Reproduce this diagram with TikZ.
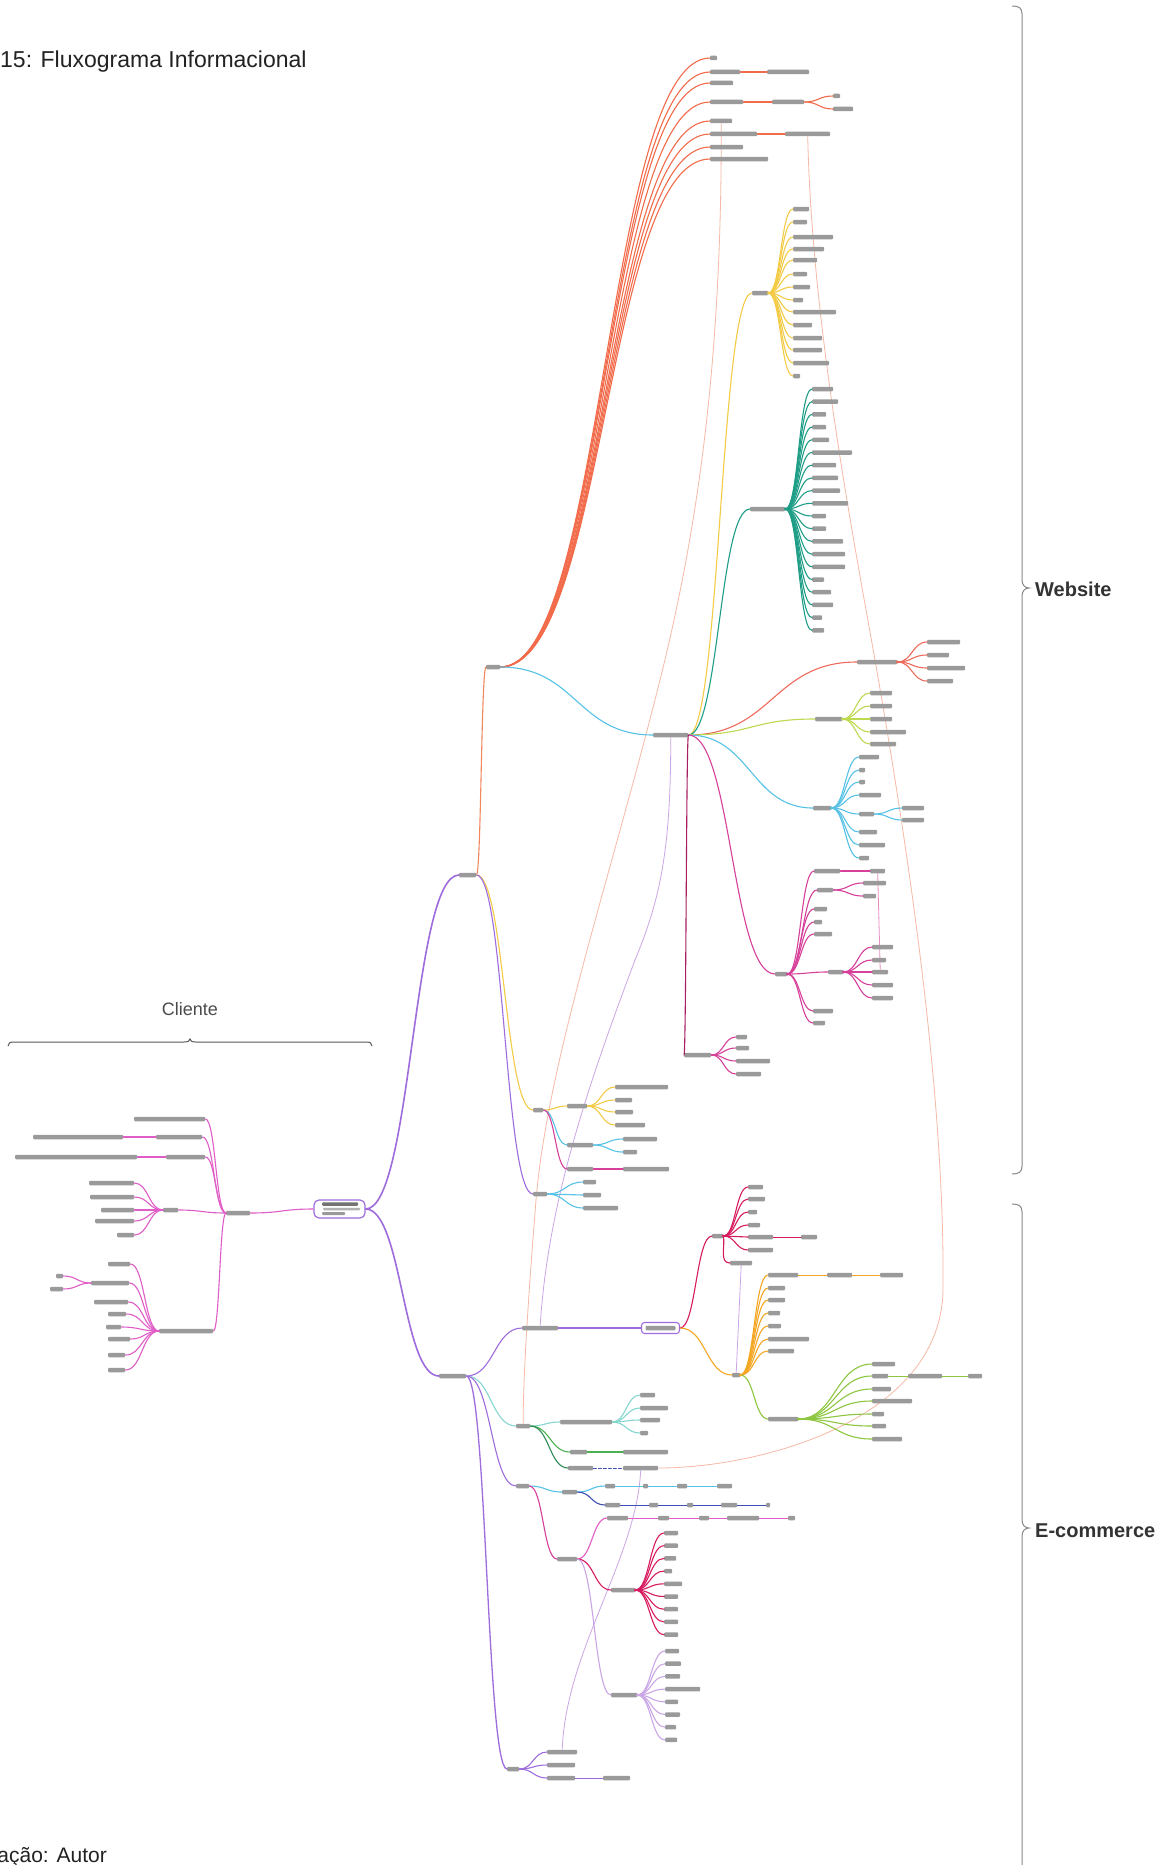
\documentclass[tikz,border=0pt]{standalone}
\usepackage{fontspec}
\setmainfont{Liberation Sans}
\usetikzlibrary{calc}
\definecolor{barc}{HTML}{9A9A9A}
\definecolor{orR}{HTML}{F26B4B}
\definecolor{orP}{HTML}{F2875E}
\definecolor{cyL}{HTML}{56C2E6}
\definecolor{yeL}{HTML}{F3CB45}
\definecolor{teL}{HTML}{1E9E86}
\definecolor{reL}{HTML}{EE6B5B}
\definecolor{ygL}{HTML}{BCD94F}
\definecolor{maL}{HTML}{D6409A}
\definecolor{dmL}{HTML}{A81E62}
\definecolor{puL}{HTML}{9E6CDD}
\definecolor{piL}{HTML}{E05CC6}
\definecolor{ogL}{HTML}{F5A623}
\definecolor{grL}{HTML}{8DC63F}
\definecolor{crL}{HTML}{D81B60}
\definecolor{ltL}{HTML}{86D6D0}
\definecolor{gnL}{HTML}{4CB050}
\definecolor{dgL}{HTML}{2E8B57}
\definecolor{dbL}{HTML}{3F51B5}
\definecolor{lvL}{HTML}{CBA6E6}
\definecolor{peL}{HTML}{F5B9A5}
\definecolor{txt}{HTML}{222222}
\definecolor{brc}{HTML}{888888}
\pgfdeclarelayer{bg}
\pgfsetlayers{bg,main}
\tikzset{
 lbl/.style={fill=barc, rounded corners=1pt, minimum height=4.5pt, inner sep=0pt, anchor=west},
 conn/.style={line width=1.1pt, line cap=round},
 chainw/.style={line width=0.8pt},
 xlink/.style={line width=0.8pt},
 bracel/.style={draw=brc, line width=1pt},
}
\newcommand\mmlb[4]{\node[lbl,minimum width=#4] (#1) at ({#2},{#3}) {};}
\newcommand\mmcn[3]{\draw[conn,#1] let \p1=(#2.east), \p2=(#3.west) in (\p1) .. controls ({(\x1+\x2)/2},\y1) and ({(\x1+\x2)/2},\y2) .. (\p2);}
\newcommand\mmcl[3]{\draw[conn,#1] let \p1=(#2.west), \p2=(#3.east) in (\p1) .. controls ({(\x1+\x2)/2},\y1) and ({(\x1+\x2)/2},\y2) .. (\p2);}
\newcommand\mmdot[2]{\fill[#1] (#2.east) circle (1.6);}
\begin{document}
\begin{tikzpicture}[x=1pt,y=-1pt]
\useasboundingbox (0,0) rectangle (1168,1865);
\begin{pgfonlayer}{bg}
\fill[white] (0,0) rectangle (1168,1865);
\end{pgfonlayer}

% ---------- texts ----------
\node[anchor=base west, font=\fontsize{23}{26}\selectfont, text=txt, inner sep=0] (title) at (0,68) {15: Fluxograma Informacional};
\node[anchor=base east, font=\fontsize{21}{24}\selectfont, text=txt, inner sep=0] (caption) at (107,1862) {ação: Autor};
\node[anchor=base, font=\fontsize{18}{21}\selectfont, text=black!70, inner sep=0] (cli) at (190,1015) {Cliente};
\node[anchor=base west, font=\bfseries\fontsize{20}{24}\selectfont, text=black!80, inner sep=0] (web) at (1035,596) {Website};
\node[anchor=base west, font=\bfseries\fontsize{20}{24}\selectfont, text=black!80, inner sep=0] (ecom) at (1035,1537) {E-commerce};

% ---------- braces ----------
\draw[bracel] (1012,6) .. controls (1019,6) and (1022,8) .. (1022,14) -- (1022,580) .. controls (1022,585) and (1025,588) .. (1029,588) .. controls (1025,588) and (1022,591) .. (1022,596) -- (1022,1166) .. controls (1022,1172) and (1019,1174) .. (1012,1174);
\draw[bracel] (1012,1204) .. controls (1019,1204) and (1022,1206) .. (1022,1212) -- (1022,1520) .. controls (1022,1525) and (1025,1528) .. (1029,1528) .. controls (1025,1528) and (1022,1531) .. (1022,1536) -- (1022,1870);
\draw[bracel, draw=black!65] (8,1046) .. controls (8,1043) and (10,1042) .. (14,1042) -- (184,1042) .. controls (188,1042) and (190,1041) .. (190,1039) .. controls (190,1041) and (192,1042) .. (196,1042) -- (366,1042) .. controls (370,1042) and (372,1043) .. (372,1046);

% ---------- hub ----------
\node[draw=puL, line width=1.2pt, fill=white, rounded corners=5pt, minimum width=51, minimum height=18, inner sep=0] (hub) at (339.5,1209) {};
\node[lbl, minimum width=36, minimum height=3.5, fill=black!55] (hubl1) at (322,1204) {};
\node[lbl, minimum width=37, minimum height=2.5, fill=black!30] (hubl2) at (323,1209) {};
\node[lbl, minimum width=23, minimum height=3, fill=black!40] (hubl3) at (322,1213.5) {};

% ---------- Cliente side ----------
\mmlb{c0}{226}{1213}{24}
\mmlb{c1}{134}{1119}{71}
\mmlb{c2}{156}{1137}{46}\mmlb{c2a}{33}{1137}{90}
\mmlb{c3}{166}{1157}{39}\mmlb{c3a}{15}{1157}{122}
\mmlb{c4}{163}{1210}{15}
\mmlb{c4a}{89}{1183}{45}\mmlb{c4b}{90}{1197}{44}\mmlb{c4c}{101}{1210}{33}\mmlb{c4d}{95}{1221}{39}\mmlb{c4e}{117}{1235}{17}
\mmlb{c5}{159}{1331}{54}
\mmlb{c5a}{108}{1264}{22}\mmlb{c5b}{91}{1283}{38}\mmlb{c5c}{94}{1302}{34}\mmlb{c5d}{108}{1314}{18}
\mmlb{c5e}{106}{1327}{15}\mmlb{c5f}{108}{1339}{22}\mmlb{c5g}{108}{1355}{17}\mmlb{c5h}{108}{1370}{17}
\mmlb{c5b1}{56}{1276}{7}\mmlb{c5b2}{50}{1289}{13}
\mmcl{piL}{hub}{c0}
\foreach \nm in {c1,c2,c3,c4,c5}{\mmcl{piL}{c0}{\nm}}
\mmcl{piL}{c2}{c2a}\mmcl{piL}{c3}{c3a}
\foreach \nm in {c4a,c4b,c4c,c4d,c4e}{\mmcl{piL}{c4}{\nm}}
\foreach \nm in {c5a,c5b,c5c,c5d,c5e,c5f,c5g,c5h}{\mmcl{piL}{c5}{\nm}}
\mmcl{piL}{c5b}{c5b1}\mmcl{piL}{c5b}{c5b2}

% ---------- Website trunk ----------
\mmlb{P}{459}{875}{17}
\mmlb{R}{486}{667}{14}
\mmlb{Y}{533}{1110}{10}
\mmlb{Pn}{533}{1194}{14}
\mmcn{puL,line width=1.6pt}{hub}{P}
\mmcn{orP}{P}{R}\mmcn{yeL}{P}{Y}\mmcn{puL}{P}{Pn}

% top fan
\mmlb{t1}{710}{58}{7}
\mmlb{t2}{710}{72}{30}\mmlb{t2a}{767}{72}{42}
\mmlb{t3}{710}{83}{23}
\mmlb{t4}{710}{102}{33}\mmlb{t4a}{772}{102}{32}\mmlb{t4b}{833}{96}{7}\mmlb{t4c}{833}{109}{20}
\mmlb{t5}{710}{121}{22}
\mmlb{t6}{710}{134}{47}\mmlb{t6a}{785}{134}{45}
\mmlb{t7}{710}{147}{33}
\mmlb{t8}{710}{159}{58}
\foreach \nm in {t1,t2,t3,t4,t5,t6,t7,t8}{\mmcn{orR}{R}{\nm}}
\mmcn{orR}{t2}{t2a}\mmcn{orR}{t4}{t4a}\mmcn{orR}{t4a}{t4b}\mmcn{orR}{t4a}{t4c}\mmcn{orR}{t6}{t6a}

% W2 hub
\mmlb{W2}{653}{735}{35}
\mmcn{cyL}{R}{W2}
\mmlb{Yh}{752}{293}{16}
\mmlb{Th}{750}{509}{35}
\mmlb{Rh}{857}{662}{40}
\mmlb{YGh}{815}{719}{27}
\mmlb{Bh}{813}{808}{18}
\mmlb{Mh}{775}{974}{12}
\mmlb{Dm}{684}{1055}{27}
\mmcn{yeL}{W2}{Yh}\mmcn{teL}{W2}{Th}\mmcn{reL}{W2}{Rh}\mmcn{ygL}{W2}{YGh}
\mmcn{cyL}{W2}{Bh}\mmcn{maL}{W2}{Mh}\mmcn{dmL}{W2}{Dm}

\foreach \yy/\ww [count=\i] in {209/16,222/14,237/40,249/31,260/24,274/14,287/17,300/10,312/43,325/19,338/29,350/29,363/36,376/7}{\mmlb{yc\i}{793}{\yy}{\ww}\mmcn{yeL}{Yh}{yc\i}}
\foreach \ww [count=\i] in {21,26,14,14,17,40,24,26,28,36,14,14,31,33,33,12,19,21,10,12}{\mmlb{tc\i}{812}{389+12.7*(\i-1)}{\ww}\mmcn{teL}{Th}{tc\i}}
\foreach \yy/\ww [count=\i] in {642/33,655/22,668/38,681/26}{\mmlb{rc\i}{927}{\yy}{\ww}\mmcn{reL}{Rh}{rc\i}}
\foreach \yy/\ww [count=\i] in {693/22,706/22,719/22,732/36,744/26}{\mmlb{yg\i}{870}{\yy}{\ww}\mmcn{ygL}{YGh}{yg\i}}
\foreach \yy/\ww [count=\i] in {757/20,770/6,782/6,795/22,814/15,832/18,845/26,858/10}{\mmlb{bc\i}{859}{\yy}{\ww}\mmcn{cyL}{Bh}{bc\i}}
\mmlb{bc5a}{902}{808}{22}\mmlb{bc5b}{902}{820}{22}
\mmcn{cyL}{bc5}{bc5a}\mmcn{cyL}{bc5}{bc5b}
\mmlb{m1}{814}{871}{26}\mmlb{m1a}{870}{871}{15}
\mmlb{m2}{817}{890}{16}\mmlb{m2a}{863}{883}{23}\mmlb{m2b}{863}{896}{13}
\mmlb{m3}{814}{909}{13}
\mmlb{m4}{814}{922}{8}
\mmlb{m5}{814}{934}{18}
\mmlb{m6}{828}{972}{15}
\mmlb{m7}{813}{1011}{20}
\mmlb{m8}{813}{1023}{12}
\foreach \nm in {m1,m2,m3,m4,m5,m6,m7,m8}{\mmcn{maL}{Mh}{\nm}}
\mmcn{maL}{m1}{m1a}\mmcn{maL}{m2}{m2a}\mmcn{maL}{m2}{m2b}
\foreach \yy/\ww/\kk in {947/21/a,960/14/b,972/16/c,985/21/d,998/21/e}{\mmlb{m6\kk}{872}{\yy}{\ww}\mmcn{maL}{m6}{m6\kk}}
\foreach \yy/\ww [count=\i] in {1037/11,1048/13,1061/34,1074/25}{\mmlb{d\i}{736}{\yy}{\ww}\mmcn{maL}{Dm}{d\i}}
\mmdot{reL}{Rh}\mmdot{ygL}{YGh}\mmdot{cyL}{Bh}\mmdot{maL}{Mh}\mmdot{maL}{m6}\mmdot{yeL}{Yh}\mmdot{teL}{Th}

% Y and Pn
\mmlb{Yy}{567}{1106}{20}\mmlb{Yb}{567}{1145}{26}\mmlb{Ym}{567}{1169}{26}
\mmcn{yeL}{Y}{Yy}\mmcn{cyL}{Y}{Yb}\mmcn{maL}{Y}{Ym}
\foreach \yy/\ww [count=\i] in {1087/53,1100/17,1112/18,1125/30}{\mmlb{yy\i}{615}{\yy}{\ww}\mmcn{yeL}{Yy}{yy\i}}
\mmlb{yb1}{623}{1139}{34}\mmlb{yb2}{623}{1152}{14}\mmcn{cyL}{Yb}{yb1}\mmcn{cyL}{Yb}{yb2}
\mmlb{ym1}{623}{1169}{46}\mmcn{maL}{Ym}{ym1}
\foreach \yy/\ww [count=\i] in {1182/13,1195/18,1208/35}{\mmlb{pn\i}{583}{\yy}{\ww}\mmcn{cyL}{Pn}{pn\i}}

% ---------- E-commerce ----------
\mmlb{P2}{439}{1376}{27}
\mmcn{puL,line width=1.6pt}{hub}{P2}
\mmlb{E1}{522}{1328}{36}
\mmlb{Tn}{516}{1426}{14}
\mmlb{Sn}{516}{1486}{13}
\mmlb{Bn}{507}{1769}{12}
\mmcn{puL}{P2}{E1}\mmcn{ltL}{P2}{Tn}\mmcn{puL}{P2}{Sn}\mmcn{puL,line width=1.3pt}{P2}{Bn}
\node[draw=puL, line width=1.1pt, fill=white, rounded corners=3pt, minimum width=38, minimum height=11, inner sep=0] (E1b) at (660.5,1328) {};
\node[lbl, anchor=center, minimum width=30] (E1bt) at (E1b.center) {};
\mmcn{puL}{E1}{E1b}
\mmlb{Mg}{712}{1236}{11}
\mmlb{Or}{732}{1375}{8}
\mmcn{crL}{E1b}{Mg}\mmcn{ogL}{E1b}{Or}
\foreach \yy/\ww [count=\i] in {1187/15,1199/17,1212/9,1225/12,1237/25,1250/25}{\mmlb{mg\i}{748}{\yy}{\ww}\mmcn{crL}{Mg}{mg\i}}
\mmlb{mg5a}{801}{1237}{16}\mmcn{crL,chainw}{mg5}{mg5a}
\mmlb{mg7}{730}{1263}{22}
\draw[conn,crL] (Mg.east) to[out=-80,in=180] (mg7.west);
\foreach \yy/\ww [count=\i] in {1275/30,1288/17,1300/17,1313/12,1326/13,1339/41,1351/26}{\mmlb{or\i}{768}{\yy}{\ww}\mmcn{ogL}{Or}{or\i}}
\mmlb{or1a}{827}{1275}{25}\mmlb{or1b}{880}{1275}{23}
\mmcn{ogL,chainw}{or1}{or1a}\mmcn{ogL,chainw}{or1a}{or1b}
\mmlb{Gh}{768}{1419}{30}
\mmcn{grL}{Or}{Gh}
\foreach \yy/\ww [count=\i] in {1364/23,1376/16,1389/19,1401/40,1414/12,1426/14,1439/30}{\mmlb{gh\i}{872}{\yy}{\ww}\mmcn{grL}{Gh}{gh\i}}
\mmlb{gh2a}{908}{1376}{34}\mmlb{gh2b}{968}{1376}{14}
\mmcn{grL,chainw}{gh2}{gh2a}\mmcn{grL,chainw}{gh2a}{gh2b}
\mmdot{crL}{Mg}\mmdot{ogL}{Or}\mmdot{grL}{Gh}

\mmlb{Tn1}{560}{1422}{52}\mmlb{Tn2}{570}{1452}{17}\mmlb{Tn3}{568}{1468}{25}
\mmcn{ltL}{Tn}{Tn1}\mmcn{gnL}{Tn}{Tn2}\mmcn{dgL}{Tn}{Tn3}
\foreach \yy/\ww [count=\i] in {1395/15,1408/28,1420/20,1433/8}{\mmlb{tn1\i}{640}{\yy}{\ww}\mmcn{ltL}{Tn1}{tn1\i}}
\mmlb{tn2a}{623}{1452}{45}\mmcn{gnL}{Tn2}{tn2a}
\mmlb{tn3a}{623}{1468}{35}\mmcn{dbL,chainw,densely dashed}{Tn3}{tn3a}

\mmlb{Sn1}{562}{1492}{15}\mmlb{Sn2}{557}{1559}{20}
\mmcn{cyL}{Sn}{Sn1}\mmcn{maL}{Sn}{Sn2}
\mmlb{Sn1a}{605}{1486}{10}\mmlb{Sn1b}{605}{1505}{15}
\mmcn{cyL}{Sn1}{Sn1a}\mmcn{dbL}{Sn1}{Sn1b}
\mmlb{s1}{643}{1486}{5}\mmlb{s2}{677}{1486}{10}\mmlb{s3}{717}{1486}{15}
\mmcn{cyL,chainw}{Sn1a}{s1}\mmcn{cyL,chainw}{s1}{s2}\mmcn{cyL,chainw}{s2}{s3}
\mmlb{u1}{649}{1505}{9}\mmlb{u2}{687}{1505}{6}\mmlb{u3}{721}{1505}{16}\mmlb{u4}{766}{1505}{4}
\mmcn{dbL,chainw}{Sn1b}{u1}\mmcn{dbL,chainw}{u1}{u2}\mmcn{dbL,chainw}{u2}{u3}\mmcn{dbL,chainw}{u3}{u4}
\mmlb{Sn2a}{607}{1518}{21}\mmlb{Sn2b}{611}{1590}{24}\mmlb{Sn2c}{611}{1695}{26}
\mmcn{piL}{Sn2}{Sn2a}\mmcn{crL}{Sn2}{Sn2b}\mmcn{lvL}{Sn2}{Sn2c}
\mmlb{v1}{658}{1518}{11}\mmlb{v2}{699}{1518}{10}\mmlb{v3}{727}{1518}{32}\mmlb{v4}{788}{1518}{7}
\mmcn{piL,chainw}{Sn2a}{v1}\mmcn{piL,chainw}{v1}{v2}\mmcn{piL,chainw}{v2}{v3}\mmcn{piL,chainw}{v3}{v4}
\foreach \ww [count=\i] in {14,14,12,8,18,14,14,14,14}{\mmlb{w\i}{664}{1533+12.7*(\i-1)}{\ww}\mmcn{crL}{Sn2b}{w\i}}
\foreach \ww [count=\i] in {14,16,15,35,13,15,11,12}{\mmlb{z\i}{665}{1651+12.7*(\i-1)}{\ww}\mmcn{lvL}{Sn2c}{z\i}}
\mmdot{crL}{Sn2b}\mmdot{lvL}{Sn2c}

\mmlb{Bn1}{547}{1752}{30}\mmlb{Bn2}{547}{1765}{28}\mmlb{Bn3}{547}{1778}{28}\mmlb{Bn3a}{603}{1778}{27}
\mmcn{puL}{Bn}{Bn1}\mmcn{puL}{Bn}{Bn2}\mmcn{puL}{Bn}{Bn3}\mmcn{puL,chainw}{Bn3}{Bn3a}

% ---------- cross links ----------
\begin{pgfonlayer}{bg}
\draw[xlink,peL] (t5.south) .. controls (722,350) and (700,520) .. (660,680) .. controls (610,880) and (548,1060) .. (536,1200) .. controls (528,1300) and (523,1380) .. (Tn.north);
\draw[xlink,peL] (t6a.south) .. controls (812,320) and (850,520) .. (875,660) .. controls (910,860) and (945,1100) .. (943,1290) .. controls (941,1420) and (760,1468) .. (tn3a.east);
\draw[xlink,lvL] (W2.south) .. controls (671,850) and (660,900) .. (635,960) .. controls (590,1080) and (548,1200) .. (E1.north);
\draw[xlink,lvL] (Bn1.north) .. controls (566,1650) and (636,1560) .. (tn3a.south);
\draw[xlink,lvL] (mg7.south) -- (Or.north);
\draw[xlink,maL!60] (m1a.south) -- (m6c.north);
\end{pgfonlayer}
\end{tikzpicture}
\end{document}
